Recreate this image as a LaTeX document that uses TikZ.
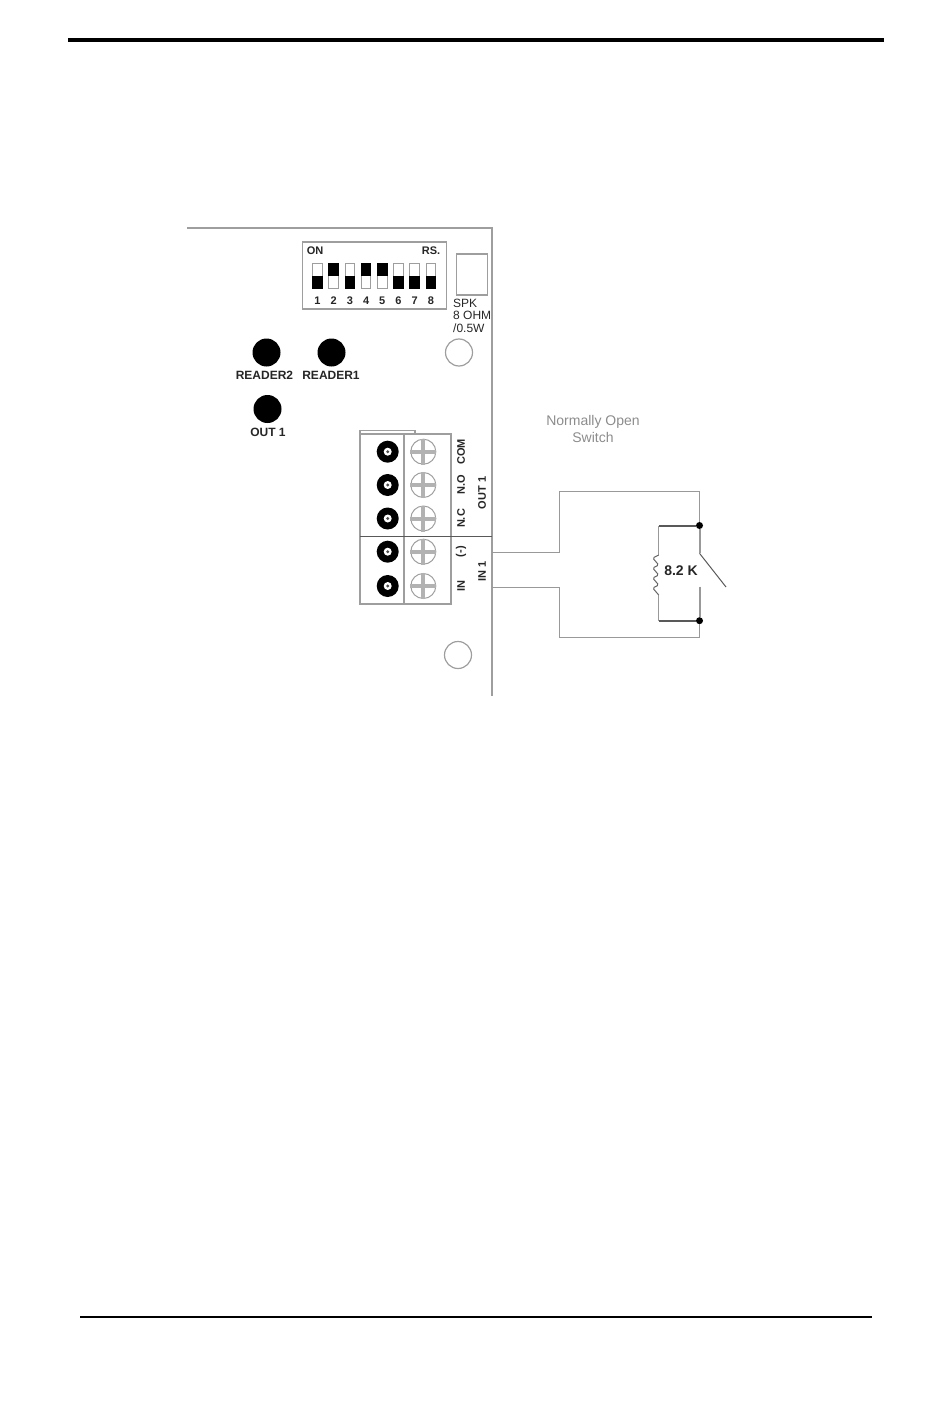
\documentclass[tikz,border=0pt]{standalone}
\usepackage{fontspec}
\setmainfont{Liberation Sans}
\usepackage{color}
\definecolor{wiregray}{rgb}{0.6, 0.6, 0.6}
\definecolor{boardgray}{rgb}{0.62, 0.62, 0.62}
\definecolor{screwgray}{rgb}{0.7, 0.7, 0.7}
\definecolor{captiongray}{rgb}{0.55, 0.55, 0.55}
\tikzset{
	boardline/.style={draw=boardgray, line width=1.5pt},
	boxline/.style={draw=boardgray, line width=1.1pt},
	wireline/.style={draw=wiregray, line width=1.4pt},
	contactline/.style={draw=wiregray, line width=2pt},
	boardtext/.style={inner sep=0pt, font=\fontsize{12}{12}\selectfont, text=black!85},
	headtext/.style={boardtext, font=\fontsize{11}{11}\selectfont\bfseries},
	sidetext/.style={headtext, rotate=90},
	ledtext/.style={boardtext, font=\fontsize{12}{12}\selectfont\bfseries},
	captiontext/.style={boardtext, anchor=base, text=captiongray, font=\fontsize{14}{14}\selectfont},
	dipcell/.style={draw=boardgray, line width=1pt, minimum width=9.5pt, minimum height=25pt, inner sep=0pt},
	ledspot/.style={circle, fill=black, minimum size=28pt, inner sep=0pt},
	mounthole/.style={circle, draw=boardgray, line width=1.2pt, minimum size=27pt, inner sep=0pt},
	junction/.style={circle, fill=black, minimum size=7pt, inner sep=0pt}
}
\begin{document}
\begin{tikzpicture}[x=1pt, y=-1pt]
	\useasboundingbox (0,0) rectangle (950,1415);
	% page rules
	\coordinate (topruleL) at (68,40);
	\coordinate (topruleR) at (884,40);
	\coordinate (botruleL) at (80,1317);
	\coordinate (botruleR) at (872,1317);
	\draw[line width=3.6pt] (topruleL) -- (topruleR);
	\draw[line width=2.4pt] (botruleL) -- (botruleR);
	% board edge
	\coordinate (boardTL) at (187,228);
	\coordinate (boardTR) at (492,228);
	\coordinate (boardBR) at (492,696);
	\draw[boardline] (boardTL) -- (boardTR) -- (boardBR);
	% dip switch
	\node[boxline, rectangle, minimum width=144pt, minimum height=67pt, inner sep=0pt] (dipbox) at (374.5,275.5) {};
	\node[headtext] (dipon) at (315,251) {ON};
	\node[headtext] (diprs) at (431,251) {RS.};
	% loops over the 8 switches, 0 = lever down, 1 = lever up
	\foreach \i/\up in {1/0, 2/1, 3/0, 4/1, 5/1, 6/0, 7/0, 8/0}{
		\node[dipcell] (dip\i) at ({317.5+16.2*(\i-1)},275.5) {};
		\ifnum\up=1
			\fill (dip\i.north west) rectangle (dip\i.east);
		\else
			\fill (dip\i.west) rectangle (dip\i.south east);
		\fi
		\node[headtext] (diplabel\i) at ({317.5+16.2*(\i-1)},301) {\i};
	}
	% speaker
	\node[boxline, rectangle, minimum width=31pt, minimum height=41pt, inner sep=0pt] (spkbox) at (472.3,274.5) {};
	\node[boardtext, anchor=west] (spka) at (453,303) {SPK};
	\node[boardtext, anchor=west] (spkb) at (453,315.5) {8 OHM};
	\node[boardtext, anchor=west] (spkc) at (453,328) {/0.5W};
	\node[mounthole] (holeA) at (459,352.5) {};
	\node[mounthole] (holeB) at (458,655) {};
	% leds
	\node[ledspot] (ledB) at (266.5,352.5) {};
	\node[ledspot] (ledA) at (331.5,352.5) {};
	\node[ledspot] (ledC) at (267.5,409) {};
	\node[ledtext] (ledBtext) at (264.5,375.7) {READER2};
	\node[ledtext] (ledAtext) at (331,375.7) {READER1};
	\node[ledtext] (ledCtext) at (268,432) {OUT 1};
	% terminal block
	\coordinate (tabA) at (360,434);
	\coordinate (tabB) at (360,430.7);
	\coordinate (tabC) at (415,430.7);
	\coordinate (tabD) at (415,434);
	\draw[boxline] (tabA) -- (tabB) -- (tabC) -- (tabD);
	\node[boxline, rectangle, minimum width=91pt, minimum height=170pt, inner sep=0pt] (termbox) at (405.5,519) {};
	\coordinate (splitT) at (404,434);
	\coordinate (splitB) at (404,604);
	\draw[draw=boardgray, line width=2pt] (splitT) -- (splitB);
	\coordinate (rowL) at (360,536.3);
	\coordinate (rowR) at (492,536.3);
	\draw[line width=0.8pt, draw=black!65] (rowL) -- (rowR);
	% loops over the 5 terminals
	\foreach \i/\y/\txt in {1/451.7/COM, 2/485/N.O, 3/518.5/N.C, 4/551.7/(-), 5/586/IN}{
		\fill (387.7,\y) circle (11pt);
		\fill[white] (387.7,\y) circle (4pt);
		\fill[black!70] (387.7,\y) circle (1.6pt);
		\node[circle, draw=boardgray, line width=1pt, minimum size=25pt, inner sep=0pt] (screw\i) at (423.3,\y) {};
		\draw[draw=screwgray, line width=4pt] (screw\i.north) -- (screw\i.south);
		\draw[draw=screwgray, line width=4pt] (screw\i.west) -- (screw\i.east);
		\node[sidetext] (term\i) at (461,\y) {\txt};
	}
	\node[sidetext] (outtext) at (482,493) {OUT 1};
	\node[sidetext] (intext) at (482,571) {IN 1};
	% external wiring
	\coordinate (wireA) at (492,552.3);
	\coordinate (wireB) at (559.5,552.3);
	\coordinate (wireC) at (559.5,491.5);
	\coordinate (wireD) at (699.5,491.5);
	\coordinate (wireE) at (492,587.3);
	\coordinate (wireF) at (559.5,587.3);
	\coordinate (wireG) at (559.5,637.5);
	\coordinate (wireH) at (699.5,637.5);
	\coordinate (swpivot) at (699.5,553.3);
	\coordinate (swtip) at (726,587);
	\coordinate (swlow) at (699.5,586.7);
	\node[junction] (dotA) at (699.5,525.5) {};
	\node[junction] (dotB) at (699.5,620.7) {};
	\coordinate (resA) at (658.7,525.5);
	\coordinate (resB) at (658.7,555);
	\coordinate (resC) at (658.7,595);
	\coordinate (resD) at (658.7,620.7);
	\draw[wireline] (wireA) -- (wireB) -- (wireC) -- (wireD) -- (dotA);
	\draw[wireline] (wireE) -- (wireF) -- (wireG) -- (wireH) -- (dotB);
	\draw[contactline] (dotA) -- (swpivot);
	\draw[contactline] (swlow) -- (dotB);
	\draw[line width=1pt, draw=black!65] (swpivot) -- (swtip);
	\draw[line width=2pt, draw=black!65] (dotA) -- (resA);
	\draw[line width=2pt, draw=black!65] (dotB) -- (resD);
	\draw[wireline] (resA) -- (resB);
	\draw[wireline] (resC) -- (resD);
	% resistor wiggle
	\draw[line width=1pt, draw=black!60, rounded corners=1.5pt] (resB) -- ++(-6,3) -- ++(6,7) -- ++(-6,3) -- ++(6,7) -- ++(-6,3) -- ++(6,7) -- ++(-6,3) -- (resC);
	\node[boardtext, font=\fontsize{14}{14}\selectfont\bfseries] (restext) at (681,570.5) {8.2 K};
	\node[captiontext] (captionA) at (593,425) {Normally Open};
	\node[captiontext] (captionB) at (593,442) {Switch};
\end{tikzpicture}
\end{document}
